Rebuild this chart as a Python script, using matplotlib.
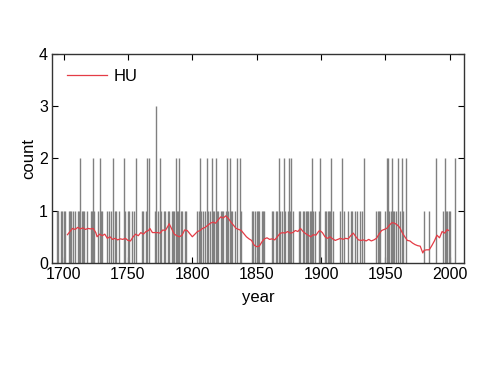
import matplotlib
matplotlib.use("Agg")
import matplotlib.pyplot as plt

# Conteos anuales (barras grises), 1695-2005, una fila por década
years = list(range(1695, 2006))
counts = [
    1, 1, 0, 1, 1,                   # 1695-1699
    1, 1, 0, 0, 1, 1, 1, 1, 0, 1,    # 1700s
    0, 1, 1, 2, 1, 1, 1, 0, 1, 0,    # 1710s
    0, 1, 1, 2, 1, 0, 0, 1, 2, 1,    # 1720s
    1, 0, 0, 0, 1, 1, 0, 1, 2, 0,    # 1730s
    1, 1, 0, 1, 0, 0, 0, 2, 1, 0,    # 1740s
    1, 1, 0, 1, 0, 1, 2, 0, 0, 0,    # 1750s
    0, 1, 1, 0, 1, 2, 2, 0, 0, 0,    # 1760s
    0, 1, 3, 1, 0, 2, 1, 0, 1, 1,    # 1770s
    0, 1, 1, 0, 1, 1, 1, 2, 1, 1,    # 1780s
    2, 1, 1, 0, 1, 1, 0, 0, 0, 0,    # 1790s
    0, 0, 0, 0, 1, 1, 2, 1, 1, 0,    # 1800s
    1, 2, 1, 0, 1, 2, 1, 1, 2, 1,    # 1810s
    1, 0, 1, 1, 1, 0, 1, 2, 1, 2,    # 1820s
    1, 1, 0, 1, 0, 2, 0, 2, 1, 0,    # 1830s
    0, 0, 0, 0, 0, 0, 1, 1, 0, 1,    # 1840s
    1, 1, 1, 0, 1, 1, 1, 0, 0, 0,    # 1850s
    0, 0, 1, 1, 0, 1, 1, 2, 1, 0,    # 1860s
    1, 2, 1, 0, 1, 2, 1, 2, 1, 0,    # 1870s
    0, 0, 0, 1, 1, 0, 1, 1, 1, 1,    # 1880s
    1, 1, 1, 2, 1, 1, 0, 0, 1, 2,    # 1890s
    0, 0, 0, 1, 1, 1, 1, 1, 2, 1,    # 1900s
    0, 0, 0, 0, 0, 1, 2, 0, 1, 0,    # 1910s
    0, 1, 0, 1, 1, 0, 1, 0, 1, 0,    # 1920s
    1, 0, 1, 2, 0, 0, 0, 0, 0, 0,    # 1930s
    0, 0, 0, 1, 1, 1, 1, 0, 0, 0,    # 1940s
    1, 2, 2, 1, 1, 2, 1, 1, 1, 0,    # 1950s
    2, 1, 0, 2, 1, 0, 2, 0, 0, 0,    # 1960s
    0, 0, 0, 0, 0, 0, 0, 0, 0, 0,    # 1970s
    1, 0, 0, 0, 1, 0, 0, 0, 0, 2,    # 1980s
    0, 0, 0, 0, 0, 1, 2, 1, 1, 1,    # 1990s
    1, 0, 0, 0, 2, 0,                # 2000-2005
]

# Media móvil (línea roja)
hu_years = [1703, 1705, 1707, 1709, 1711, 1713, 1715, 1717, 1719, 1721,
            1723, 1725, 1726, 1728, 1730, 1732, 1734, 1736, 1738, 1740,
            1742, 1744, 1746, 1748, 1750, 1752, 1754, 1756, 1758, 1760,
            1762, 1764, 1766, 1767, 1769, 1771, 1773, 1775, 1777, 1779,
            1781, 1782, 1784, 1786, 1788, 1790, 1792, 1794, 1796, 1798,
            1800, 1802, 1804, 1806, 1808, 1810, 1812, 1814, 1816, 1818,
            1820, 1822, 1824, 1826, 1828, 1830, 1832, 1834, 1836, 1838,
            1840, 1842, 1844, 1846, 1848, 1850, 1852, 1854, 1856, 1858,
            1860, 1862, 1864, 1866, 1868, 1870, 1872, 1874, 1876, 1878,
            1880, 1882, 1884, 1886, 1888, 1890, 1892, 1894, 1896, 1898,
            1899, 1901, 1903, 1905, 1907, 1909, 1911, 1913, 1915, 1917,
            1919, 1921, 1923, 1925, 1927, 1929, 1931, 1933, 1935, 1937,
            1939, 1941, 1943, 1945, 1947, 1949, 1951, 1953, 1955, 1957,
            1959, 1961, 1963, 1965, 1967, 1969, 1971, 1973, 1975, 1977,
            1979, 1980, 1982, 1984, 1986, 1988, 1990, 1992, 1994, 1996,
            1998, 1999]
hu_vals = [0.54, 0.60, 0.66, 0.64, 0.68, 0.65, 0.67, 0.64, 0.66, 0.65,
           0.66, 0.58, 0.50, 0.55, 0.52, 0.55, 0.47, 0.50, 0.45, 0.47,
           0.44, 0.46, 0.45, 0.47, 0.43, 0.42, 0.50, 0.55, 0.52, 0.58,
           0.55, 0.60, 0.62, 0.66, 0.58, 0.58, 0.58, 0.57, 0.63, 0.62,
           0.70, 0.75, 0.65, 0.55, 0.52, 0.50, 0.53, 0.63, 0.62, 0.56,
           0.50, 0.55, 0.60, 0.62, 0.66, 0.68, 0.72, 0.76, 0.78, 0.76,
           0.82, 0.88, 0.86, 0.90, 0.85, 0.78, 0.72, 0.66, 0.64, 0.62,
           0.56, 0.50, 0.46, 0.43, 0.34, 0.31, 0.32, 0.40, 0.46, 0.48,
           0.45, 0.46, 0.44, 0.50, 0.56, 0.58, 0.57, 0.60, 0.57, 0.58,
           0.62, 0.60, 0.66, 0.60, 0.56, 0.53, 0.50, 0.54, 0.53, 0.60,
           0.62, 0.58, 0.50, 0.47, 0.50, 0.46, 0.43, 0.45, 0.47, 0.45,
           0.47, 0.46, 0.52, 0.57, 0.50, 0.44, 0.43, 0.44, 0.42, 0.45,
           0.42, 0.44, 0.47, 0.55, 0.62, 0.64, 0.66, 0.72, 0.77, 0.76,
           0.73, 0.68, 0.58, 0.50, 0.43, 0.42, 0.38, 0.35, 0.33, 0.32,
           0.19, 0.24, 0.25, 0.25, 0.33, 0.42, 0.53, 0.48, 0.60, 0.57,
           0.64, 0.62]

x_ticks = [1700, 1750, 1800, 1850, 1900, 1950, 2000]
y_ticks = [0, 1, 2, 3, 4]

plt.rcParams['font.family'] = ['Liberation Sans', 'DejaVu Sans']

fig = plt.figure(figsize=(5, 3.75), dpi=100)
ax = fig.add_axes([0.104, 0.299, 0.824, 0.557])

# Barras verticales de conteo
ax.vlines(years, 0, counts, color='#808080', linewidth=1.0)

# Línea roja
ax.plot(hu_years, hu_vals, color='#e43c46', linewidth=0.9, label='HU')

ax.set_xlim(1691, 2011)
ax.set_ylim(0, 4)
ax.set_xticks(x_ticks)
ax.set_yticks(y_ticks)
ax.tick_params(direction='in', top=True, right=True, labelsize=11.5, length=4,
               pad=3)
for s in ax.spines.values():
    s.set_linewidth(1.0)
    s.set_color('#333333')

ax.set_xlabel('year', fontsize=12, labelpad=6)
ax.set_ylabel('count', fontsize=12, labelpad=2)

ax.legend(loc='upper left', frameon=False, fontsize=12, handlelength=2.4,
          handletextpad=0.4, borderaxespad=0.5)

plt.savefig("out.png", dpi=100)
plt.close()
